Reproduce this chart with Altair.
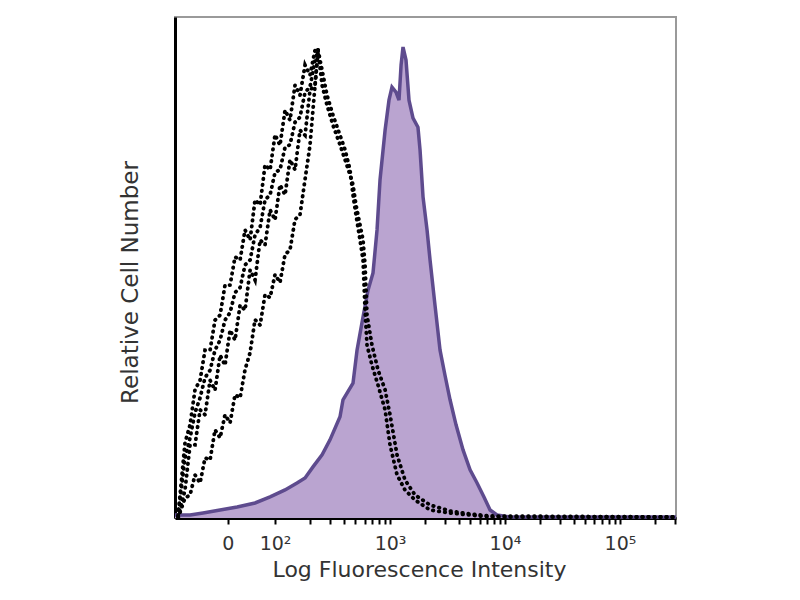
import math
import altair as alt
import pandas as pd

# x: display position in decades of fluorescence (biexponential-like axis), y: relative cell number (% of max)
# Isotype control histogram (noisy, drawn dotted): rising side as four noisy traces, falling side as two
rise_x = [1.157, 1.217, 1.261, 1.304, 1.348, 1.391, 1.435, 1.478, 1.522, 1.565, 1.609, 1.652,
          1.696, 1.739, 1.783, 1.826, 1.870, 1.913, 1.957, 2.000, 2.043, 2.087, 2.130, 2.174,
          2.217, 2.261, 2.304, 2.348, 2.374]
rise_upper = [0.5, 15.0, 18.6, 25.6, 27.5, 33.5, 33.5, 39.5, 40.5, 46.5, 46.5, 52.1,
              51.5, 57.5, 55.5, 63.5, 62.5, 70.5, 69.5, 76.5, 74.4, 81.4, 79.4, 86.4,
              84.4, 90.4, 88.4, 93.4, 93.4]
rise_upper_mid = [0.3, 12.0, 16.0, 21.0, 24.0, 28.0, 29.5, 33.5, 35.5, 39.5, 41.0, 45.0,
                  46.0, 50.5, 51.5, 56.5, 58.0, 63.5, 64.5, 69.0, 69.5, 74.0, 74.5, 79.0,
                  80.0, 85.0, 86.0, 91.4, 93.4]
rise_mid = [0.2, 5.6, 14.6, 14.6, 21.6, 20.6, 27.5, 25.5, 32.5, 30.5, 37.5, 35.5,
            42.5, 41.5, 49.5, 47.5, 55.5, 54.5, 61.5, 59.5, 66.5, 64.5, 71.5, 69.5,
            77.4, 76.4, 85.4, 86.4, 93.4]
rise_lower = [0.0, 4.0, 4.6, 8.6, 7.0, 12.0, 11.6, 17.6, 16.0, 20.6, 19.0, 24.6,
              24.0, 29.6, 33.0, 39.6, 38.5, 44.6, 44.0, 48.6, 47.0, 52.6, 53.5, 59.6,
              60.5, 67.6, 74.4, 86.4, 93.4]
fall_x = [2.374, 2.409, 2.452, 2.504, 2.565, 2.609, 2.652, 2.678, 2.704, 2.739, 2.765, 2.783,
          2.800, 2.843, 2.896, 2.957, 3.000, 3.061, 3.130, 3.217, 3.348, 3.522, 3.696, 3.870, 5.487]
fall_a = [93.4, 89.4, 84.4, 80.4, 76.4, 73.5, 69.5, 64.5, 60.5, 55.5, 51.5, 41.5,
          34.5, 30.5, 26.5, 21.6, 14.6, 8.6, 5.6, 3.6, 1.6, 1.0, 0.6, 0.2, 0.2]
fall_b = [93.4, 86.4, 82.4, 78.4, 74.5, 71.5, 68.5, 66.5, 62.5, 58.5, 55.5, 50.5,
          40.5, 34.5, 29.5, 25.6, 20.6, 12.6, 7.6, 4.6, 2.6, 1.4, 0.8, 0.4, 0.2]

# Stained sample histogram (filled purple)
stain_x = [1.130, 1.157, 1.261, 1.374, 1.522, 1.670, 1.826, 1.957, 2.087, 2.191, 2.261, 2.330,
           2.409, 2.478, 2.565, 2.591, 2.678, 2.713, 2.765, 2.809, 2.852, 2.887, 2.913,
           2.957, 2.991, 3.017, 3.052, 3.078, 3.096, 3.113, 3.139, 3.165, 3.200, 3.243,
           3.261, 3.287, 3.322, 3.348, 3.391, 3.435, 3.478, 3.522, 3.574, 3.635, 3.696,
           3.757, 3.817, 3.870, 3.930, 4.043, 5.487]
stain_y = [0.6, 0.6, 0.6, 1.0, 1.6, 2.2, 3.0, 4.2, 5.6, 7.0, 8.0, 10.2,
           12.6, 15.6, 20.2, 23.6, 26.9, 33.5, 40.1, 45.5, 48.9, 57.5, 67.5,
           77.4, 83.4, 86.0, 85.0, 83.4, 90.4, 94.0, 91.4, 83.4, 79.8, 78.0,
           73.5, 64.1, 57.5, 51.5, 42.5, 33.5, 28.5, 23.6, 18.6, 13.6, 9.6,
           7.0, 4.2, 1.6, 0.6, 0.2, 0.2]

major_ticks = [1.59, 2, 3, 4, 5]
major_labels = ["0", "10²", "10³", "10⁴", "10⁵"]
minor_ticks = [d + math.log10(k) for d in (2, 3, 4, 5) for k in range(2, 10) if d + math.log10(k) < 5.48]

ctrl_frames = []
for name, xs, ys in [("u", rise_x, rise_upper), ("um", rise_x, rise_upper_mid),
                     ("m", rise_x, rise_mid), ("l", rise_x, rise_lower),
                     ("a", fall_x, fall_a), ("b", fall_x, fall_b)]:
    ctrl_frames.append(pd.DataFrame({"x": xs, "y": ys, "trace": name, "order": range(len(xs))}))
ctrl_df = pd.concat(ctrl_frames, ignore_index=True)
stain_df = pd.DataFrame({"x": stain_x, "y": stain_y})

label_expr = " : ".join(
    f"abs(datum.value - {v}) < 0.001 ? '{l}'" for v, l in zip(major_ticks, major_labels)
) + " : ''"

FONT = "DejaVu Sans"
x_scale = alt.Scale(domain=[1.13, 5.487], nice=False, zero=False)
y_scale = alt.Scale(domain=[0, 100], nice=False)

x_axis = alt.Axis(
    values=major_ticks + minor_ticks, labelExpr=label_expr, title="Log Fluorescence Intensity",
    domainColor="black", domainWidth=3, tickColor="black", tickWidth=2, tickSize=6,
    labelFont=FONT, labelFontSize=19, labelColor="#333", labelPadding=10, labelFlush=False,
    labelOverlap=False, titleFont=FONT, titleFontSize=22, titleFontWeight="normal",
    titleColor="#333", titlePadding=6, titleX=244, grid=False,
)
y_axis = alt.Axis(
    title="Relative Cell Number", labels=False, ticks=False, grid=False,
    domainColor="black", domainWidth=3, titleFont=FONT, titleFontSize=23,
    titleFontWeight="normal", titleColor="#333", titlePadding=33, titleY=265,
)

x_enc = alt.X("x:Q", scale=x_scale, axis=x_axis)
y_enc = alt.Y("y:Q", scale=y_scale, axis=y_axis)

area = alt.Chart(stain_df).mark_area(color="#baa4d0", opacity=1).encode(x=x_enc, y=y_enc)
outline = alt.Chart(stain_df).mark_line(color="#5e4b8e", strokeWidth=3.5).encode(x=x_enc, y=y_enc)
ctrl = alt.Chart(ctrl_df).mark_line(
    color="black", strokeWidth=3.8, strokeDash=[0.5, 5.5], strokeCap="round"
).encode(x=x_enc, y=y_enc, detail="trace:N", order="order:Q")

chart = alt.layer(area, outline, ctrl).properties(
    width=501, height=501, autosize="none",
    padding={"left": 167, "top": 9, "right": 100, "bottom": 80},
    background="white",
).configure_view(stroke="#9a9a9a", strokeWidth=2)

chart.save("out.html", embed_options={"renderer": "svg", "actions": False})
